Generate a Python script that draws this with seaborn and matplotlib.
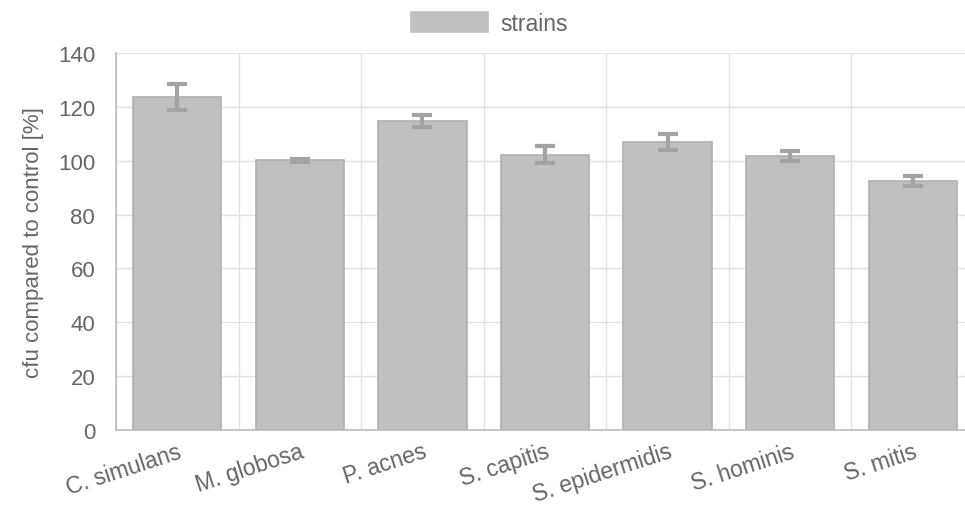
import matplotlib
matplotlib.use("Agg")
import matplotlib.pyplot as plt
import numpy as np
import pandas as pd
import seaborn as sns

strains = ["C. simulans", "M. globosa", "P. acnes", "S. capitis",
           "S. epidermidis", "S. hominis", "S. mitis"]
cfu_pct = [123.7, 100.1, 114.7, 102.2, 107.0, 101.7, 92.6]
cfu_err = [4.8, 0.5, 2.3, 3.1, 3.1, 1.8, 1.9]
y_ticks = [0, 20, 40, 60, 80, 100, 120, 140]

sns.set_theme(style="white")
plt.rcParams["font.family"] = ["Liberation Sans", "DejaVu Sans"]

text_color = "#666666"
grid_color = "#e2e2e2"
bar_color = "#c0c0c0"
edge_color = "#b0b0b0"
err_color = "#a3a3a3"

fig = plt.figure(figsize=(9.65, 5.06), dpi=100)
ax = fig.add_axes([116 / 965, 75 / 506, 858 / 965, 377 / 506])

df = pd.DataFrame({"strain": strains, "cfu": cfu_pct})
sns.barplot(data=df, x="strain", y="cfu", color=bar_color, width=0.72,
            edgecolor=edge_color, linewidth=1.2, saturation=1,
            label="strains", ax=ax, zorder=2)

ax.errorbar(np.arange(len(strains)), cfu_pct, yerr=cfu_err, fmt="none",
            ecolor=err_color, elinewidth=3, capsize=7, capthick=3, zorder=3)

ax.set_xlim(-0.5, len(strains) - 0.5)
ax.set_ylim(0, 140)
ax.set_yticks(y_ticks)
ax.set_yticklabels([str(t) for t in y_ticks])

# category boundaries carry the vertical grid and the small tick marks
ax.set_xticks(np.arange(len(strains)))
ax.set_xticks(np.arange(len(strains) + 1) - 0.5, minor=True)
ax.set_xticklabels(strains, rotation=18, ha="right", rotation_mode="anchor")
ax.tick_params(axis="x", which="major", length=0, pad=7,
               labelsize=16.5, labelcolor=text_color)
ax.tick_params(axis="x", which="minor", length=14, width=1, color=grid_color)
ax.tick_params(axis="y", which="major", length=14, width=1, color=grid_color,
               labelsize=16, labelcolor=text_color, pad=1)

ax.grid(False)
ax.xaxis.grid(True, which="minor", color=grid_color, linewidth=1, zorder=0)
ax.yaxis.grid(True, which="major", color=grid_color, linewidth=1, zorder=0)
ax.set_axisbelow(True)

for side in ["top", "right"]:
    ax.spines[side].set_visible(False)
for side in ["left", "bottom"]:
    ax.spines[side].set_color("#bcbcbc")
    ax.spines[side].set_linewidth(1.2)

ax.set_xlabel("")
ax.set_ylabel("cfu compared to control [%]", fontsize=16, color=text_color,
              labelpad=10)

# legend sits centred above the chart, not inside the axes
handles, labels = ax.get_legend_handles_labels()
if ax.get_legend() is not None:
    ax.get_legend().remove()
leg = fig.legend(handles, labels, loc="upper center",
                 bbox_to_anchor=(489 / 965, 1 - 6 / 506),
                 frameon=False, fontsize=16.5, handlelength=3.4,
                 handleheight=1.0, handletextpad=0.5, borderaxespad=0,
                 borderpad=0.3)
for t in leg.get_texts():
    t.set_color(text_color)
for h in leg.legend_handles:
    h.set_edgecolor(bar_color)

fig.savefig("out.png", dpi=100)
